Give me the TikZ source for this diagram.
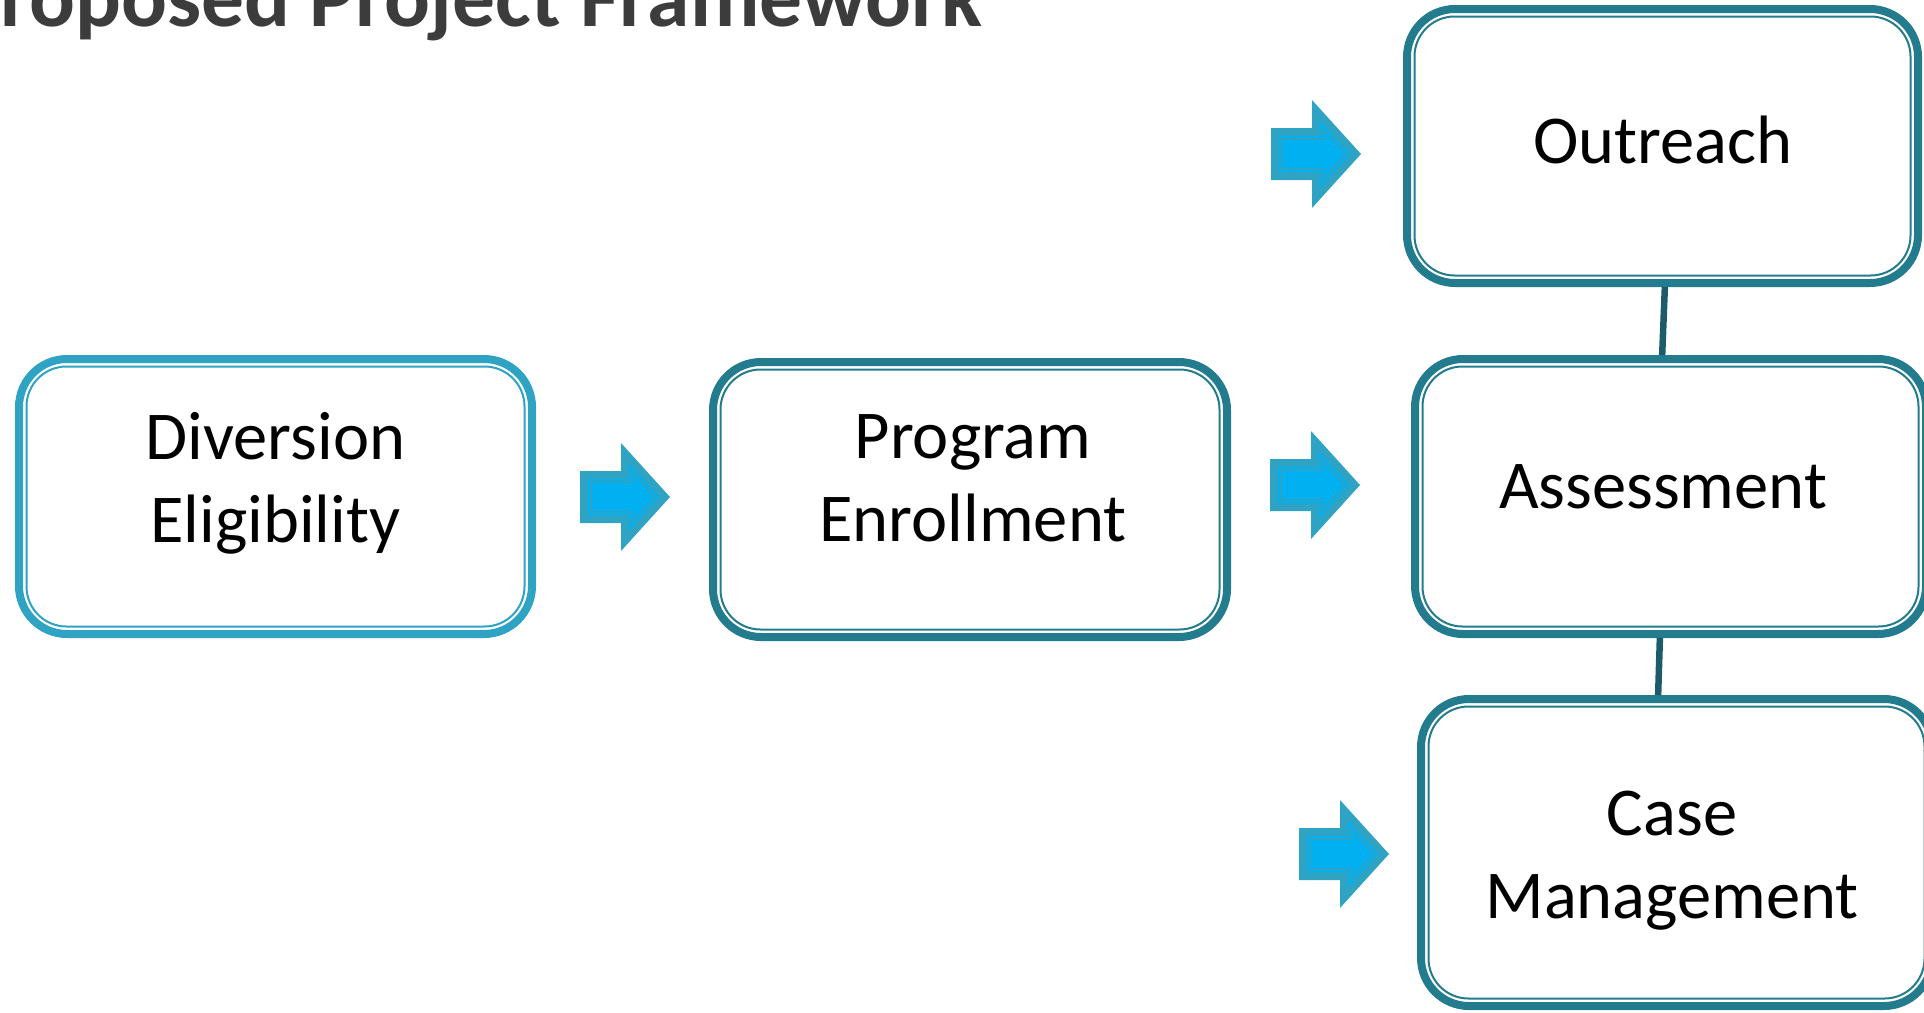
\documentclass[tikz,border=0pt]{standalone}
\usepackage{fontspec}
\setmainfont{Carlito}
\definecolor{boxdark}{HTML}{237B8E}
\definecolor{boxlight}{HTML}{2EA3C3}
\definecolor{arrowedge}{HTML}{2FA3C4}
\definecolor{arrowfill}{HTML}{00B0F0}
\definecolor{connc}{HTML}{1C5B6A}
\definecolor{titlec}{HTML}{3C3C3C}
\newcommand{\blockarrow}[2]{%
  \begin{scope}[shift={(#1,#2)}]
    \fill[arrowedge] (0,-26) -- (41,-26) -- (41,-54) -- (90,0) -- (41,54) -- (41,26) -- (0,26) -- cycle;
    \fill[arrowfill] (8,-18) -- (49,-18) -- (49,-33.3) -- (79.2,0) -- (49,33.3) -- (49,18) -- (8,18) -- cycle;
    \draw[arrowedge, line width=1.8pt, line join=miter] (11,-15) -- (52,-15) -- (52,-25.5) -- (75.1,0) -- (52,25.5) -- (52,15) -- (11,15) -- cycle;
  \end{scope}}
\begin{document}
\begin{tikzpicture}[x=1pt,y=-1pt,
  box/.style={draw=boxdark, line width=8pt, fill=white, rounded corners=48pt, outer sep=0pt, inner sep=0pt},
  boxin/.style={draw=boxdark, line width=2pt, rounded corners=40pt},
  txt/.style={font=\fontsize{68.5}{83}\selectfont, align=center, inner sep=0pt, text=black},
  conn/.style={draw=connc, line width=6.5pt, shorten <=4pt, shorten >=4pt}]
\useasboundingbox (0,0) rectangle (1924,1012);
\clip (0,0) rectangle (1924,1012);

% title
\node[font=\fontsize{85.5}{100}\selectfont\bfseries, text=titlec, anchor=base west, inner sep=0pt] (title) at (0,26) {roposed Project Framework};

% boxes
\node[box, draw=boxlight, minimum width=513pt, minimum height=275pt] (de) at (275.5,496.5) {};
\draw[boxin, draw=boxlight] ([shift={(7.5,7.5)}]de.north west) rectangle ([shift={(-7.5,-7.5)}]de.south east);
\node[box, minimum width=514pt, minimum height=275pt] (pe) at (970,499.5) {};
\draw[boxin] ([shift={(7.5,7.5)}]pe.north west) rectangle ([shift={(-7.5,-7.5)}]pe.south east);
\node[box, minimum width=511pt, minimum height=274pt] (out) at (1662.5,146) {};
\draw[boxin] ([shift={(7.5,7.5)}]out.north west) rectangle ([shift={(-7.5,-7.5)}]out.south east);
\node[box, minimum width=511pt, minimum height=275pt] (as) at (1670.5,496.5) {};
\draw[boxin] ([shift={(7.5,7.5)}]as.north west) rectangle ([shift={(-7.5,-7.5)}]as.south east);
\node[box, minimum width=511pt, minimum height=307pt] (cm) at (1676.5,852.5) {};
\draw[boxin] ([shift={(7.5,7.5)}]cm.north west) rectangle ([shift={(-7.5,-7.5)}]cm.south east);

% connectors
\draw[conn] ([xshift=2.5pt]out.south) -- ([xshift=-8.5pt]as.north);
\draw[conn] ([xshift=-10.5pt]as.south) -- ([xshift=-18.5pt]cm.north);

% texts
\node[txt] (de-t) at (275.5,483) {Diversion\\Eligibility};
\node[txt] (pe-t) at (973,478) {Program\\Enrollment};
\node[txt, anchor=base] (out-t) at (1663,163) {Outreach};
\node[txt, anchor=base] (as-t) at (1663,508) {Assessment};
\node[txt] (cm-t) at (1672,861) {Case\\Management};

% block arrows
\blockarrow{580}{497}
\blockarrow{1270}{485}
\blockarrow{1271}{154}
\blockarrow{1299}{854}
\end{tikzpicture}
\end{document}
